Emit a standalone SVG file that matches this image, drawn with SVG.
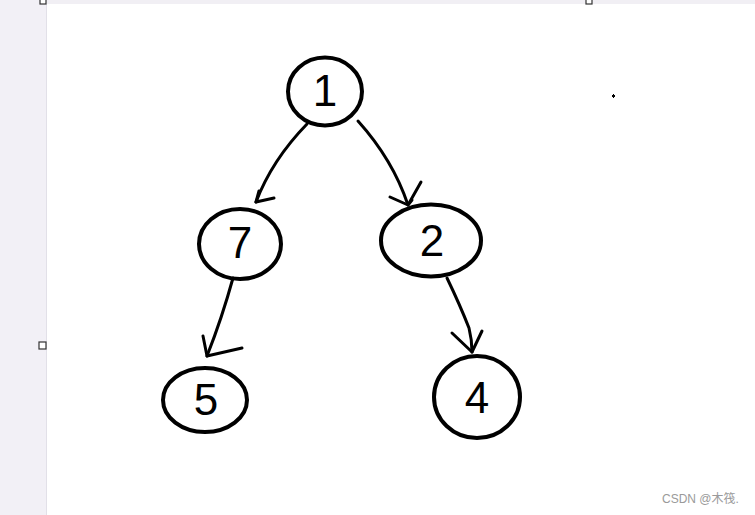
<svg xmlns="http://www.w3.org/2000/svg" width="755" height="515" viewBox="0 0 755 515">
<defs>
<style>
.node{fill:none;stroke:#000;stroke-width:4}
.lbl{font-family:"Liberation Sans","DejaVu Sans",sans-serif;font-size:44px;fill:#000;text-anchor:middle}
.edge{fill:none;stroke:#000;stroke-width:3;stroke-linecap:round;stroke-linejoin:round}
.handle{fill:#fff;stroke:#333;stroke-width:1.2}
</style>
</defs>
<rect x="0" y="0" width="755" height="515" fill="#fff"/>
<rect x="0" y="0" width="46" height="515" fill="#f2f0f6"/>
<line x1="46.5" y1="0" x2="46.5" y2="515" stroke="#e2e0e8" stroke-width="1"/>
<rect x="46" y="0" width="709" height="4" fill="#f1eff4"/>
<rect x="40" y="-2" width="6" height="6" class="handle"/>
<rect x="39" y="342" width="7" height="7" class="handle"/>
<rect x="586" y="-2" width="6" height="6" class="handle"/>
<rect x="612" y="95" width="3" height="2" fill="#000"/>
<rect x="613" y="94" width="1" height="4" fill="#000"/>
<g id="connectors">
<path class="edge" d="M307,124 Q272,160 256,202"/>
<path class="edge" d="M256,202 L259,191 M256,202 L274,198"/>
<path class="edge" d="M358,121 Q393,160 408,205"/>
<path class="edge" d="M390,197 L408,205 L412,200 M408,205 L421,182"/>
<path class="edge" d="M233,278 Q222,318 207,356"/>
<path class="edge" d="M203,336 L207,356 L242,348"/>
<path class="edge" d="M447,278 Q460,305 469,328 Q472,340 472,352"/>
<path class="edge" d="M452,333 L472,352 L482,331"/>
</g>
<g id="node1">
<ellipse class="node" cx="325" cy="91.5" rx="37" ry="34"/>
<text class="lbl" x="325" y="106">1</text>
</g>
<g id="node7">
<ellipse class="node" cx="240" cy="244" rx="41" ry="35"/>
<text class="lbl" x="240" y="258">7</text>
</g>
<g id="node2">
<ellipse class="node" cx="431" cy="240.5" rx="50" ry="36"/>
<text class="lbl" x="432" y="256">2</text>
</g>
<g id="node5">
<ellipse class="node" cx="205" cy="400" rx="42" ry="32"/>
<text class="lbl" x="206" y="415">5</text>
</g>
<g id="node4">
<ellipse class="node" cx="477" cy="397" rx="43" ry="41"/>
<text class="lbl" x="477" y="413">4</text>
</g>
<text x="662" y="503" font-family="'Liberation Sans','Noto Sans CJK SC',sans-serif" font-size="12" fill="#9a9a9a">CSDN @木筏.</text>
</svg>
